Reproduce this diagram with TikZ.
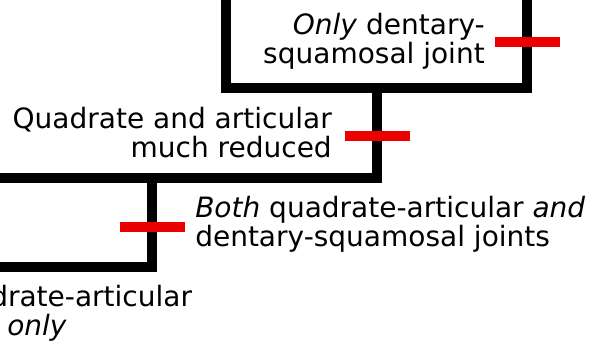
\documentclass[tikz,border=0pt]{standalone}
\usepackage{fontspec}
\setmainfont{DejaVu Sans}
\usepackage{xcolor}
\usetikzlibrary{positioning}
\definecolor{tickred}{RGB}{235,0,0}

\begin{document}
\begin{tikzpicture}[x=0.75pt, y=-0.75pt,
    font=\fontsize{21}{21.75}\selectfont,
    branch/.style={line width=7.9pt, draw=black},
    tick/.style={fill=tickred, inner sep=0pt,
                 minimum width=48.75pt, minimum height=8.2pt},
    lbl/.style={inner sep=0pt}]

    \useasboundingbox (0,0) rectangle (596,361);

    % tree
    \coordinate (tipA)  at (226,-10);
    \coordinate (tipB)  at (527,-10);
    \coordinate (nodeA) at (377,88);
    \coordinate (nodeB) at (152,178);
    \coordinate (outA)  at (-10,178);
    \coordinate (outB)  at (-10,267);

    \draw[branch] (tipA) |- (nodeA) -| (tipB);
    \draw[branch] (nodeA) |- (outA);
    \draw[branch] (nodeB) |- (outB);

    % character changes
    \node[tick] (ch1) at (527,42) {};
    \node[tick] (ch2) at (377,136) {};
    \node[tick] (ch3) at (152,227) {};

    % labels (base = last line)
    \node[lbl, anchor=base east, align=right] (dsq) at (485,63)
      {\textit{Only} dentary-\\squamosal joint};
    \node[lbl, anchor=base east, align=right] (red) at (332,157)
      {Quadrate and articular\\much reduced};
    \node[lbl, anchor=base west, align=left] (both) at (195,246)
      {\textit{Both} quadrate-articular \textit{and}\\dentary-squamosal joints};
    \node[lbl, anchor=base west, align=left] (qa) at (-10,335)
      {drate-articular\\\hspace*{12.75pt}\textit{only}};
\end{tikzpicture}
\end{document}
